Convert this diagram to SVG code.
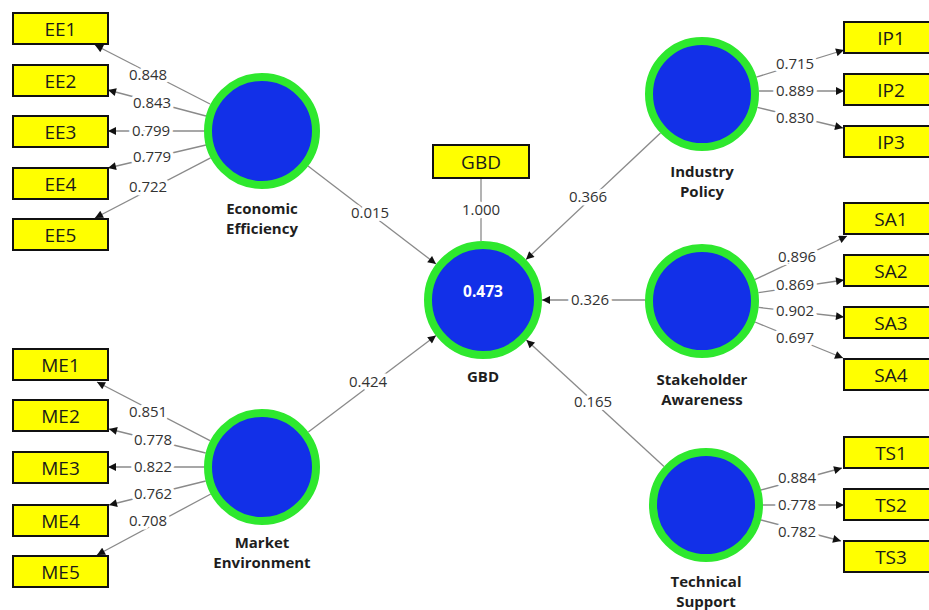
<svg xmlns="http://www.w3.org/2000/svg" width="929" height="610" viewBox="0 0 929 610">
<style>
.ind rect{fill:#ffff00;stroke:#111;stroke-width:2}
.ind text{font-family:"Open Sans","Liberation Sans",sans-serif;font-size:19px;fill:#1a1a1a;text-anchor:middle}
.lv circle{fill:#1230e8;stroke:#2ee82e;stroke-width:8}
.lv text{font-family:"Open Sans","Liberation Sans",sans-serif;font-size:15px;font-weight:bold;fill:#1e1e1e;text-anchor:middle}
.lv text.val{fill:#ffffff;font-size:15.5px}
.conn line{stroke:#8a8a8a;stroke-width:1.3}
.conn line.a{marker-end:url(#ah)}
.conn text{font-family:"Open Sans","Liberation Sans",sans-serif;font-size:15px;fill:#333;text-anchor:middle;stroke:#fff;stroke-width:7;stroke-linejoin:round;paint-order:stroke}
</style>
<defs>
<marker id="ah" viewBox="0 0 10 10" refX="10" refY="5" markerWidth="9" markerHeight="8" markerUnits="userSpaceOnUse" orient="auto">
<path d="M0,0 L10,5 L0,10 z" fill="#111"/>
</marker>
</defs>
<rect width="929" height="610" fill="#fff"/>

<g id="connectors" class="conn">
<!-- EE loadings -->
<line class="a" x1="210" y1="104" x2="95" y2="45"/>
<line class="a" x1="206" y1="116" x2="108" y2="90"/>
<line class="a" x1="204" y1="131" x2="108" y2="131"/>
<line class="a" x1="206" y1="145" x2="108" y2="168"/>
<line class="a" x1="210.6" y1="157.8" x2="95" y2="218"/>
<text x="148" y="80">0.848</text>
<text x="152" y="108">0.843</text>
<text x="151" y="136">0.799</text>
<text x="152" y="162">0.779</text>
<text x="148" y="192">0.722</text>
<!-- ME loadings -->
<line class="a" x1="210" y1="440.7" x2="97" y2="382"/>
<line class="a" x1="205.7" y1="453" x2="109" y2="429"/>
<line class="a" x1="204" y1="467" x2="108" y2="467"/>
<line class="a" x1="205.7" y1="481" x2="109" y2="505"/>
<line class="a" x1="210.8" y1="494" x2="97" y2="555"/>
<text x="148" y="417">0.851</text>
<text x="153" y="445">0.778</text>
<text x="153" y="472">0.822</text>
<text x="153" y="499">0.762</text>
<text x="148" y="526">0.708</text>
<!-- IP loadings -->
<line class="a" x1="756.4" y1="77.1" x2="844" y2="50"/>
<line class="a" x1="759" y1="91" x2="844" y2="91"/>
<line class="a" x1="757.4" y1="107.4" x2="843" y2="128"/>
<text x="795" y="69">0.715</text>
<text x="795" y="96">0.889</text>
<text x="795" y="123">0.830</text>
<!-- SA loadings -->
<line class="a" x1="754.8" y1="279.6" x2="847" y2="236"/>
<line class="a" x1="758.4" y1="292.7" x2="844" y2="280"/>
<line class="a" x1="758.6" y1="307.4" x2="844" y2="317"/>
<line class="a" x1="755" y1="322" x2="843" y2="358"/>
<text x="797" y="262">0.896</text>
<text x="795" y="290">0.869</text>
<text x="795" y="316">0.902</text>
<text x="795" y="343">0.697</text>
<!-- TS loadings -->
<line class="a" x1="761" y1="490" x2="842" y2="468"/>
<line class="a" x1="763" y1="505" x2="844" y2="505"/>
<line class="a" x1="761" y1="520" x2="841" y2="541"/>
<text x="797" y="483">0.884</text>
<text x="797" y="510">0.778</text>
<text x="797" y="537">0.782</text>
<!-- GBD indicator -->
<line x1="481" y1="178" x2="481" y2="241"/>
<text x="481" y="215">1.000</text>
<!-- structural paths -->
<line class="a" x1="308" y1="166" x2="436" y2="264"/>
<line class="a" x1="308.3" y1="432" x2="436" y2="335.6"/>
<line class="a" x1="660.5" y1="133" x2="526" y2="259.6"/>
<line class="a" x1="645" y1="300" x2="542" y2="300"/>
<line class="a" x1="664" y1="466.4" x2="526.4" y2="340"/>
<text x="370" y="218">0.015</text>
<text x="368" y="387">0.424</text>
<text x="588" y="202">0.366</text>
<text x="590" y="305">0.326</text>
<text x="593" y="407">0.165</text>
</g>

<g id="EE1" class="ind"><rect x="13" y="13" width="95" height="31"/><text x="60.5" y="35.5">EE1</text></g>
<g id="EE2" class="ind"><rect x="13" y="65" width="95" height="31"/><text x="60.5" y="87.5">EE2</text></g>
<g id="EE3" class="ind"><rect x="13" y="116" width="95" height="31"/><text x="60.5" y="138.5">EE3</text></g>
<g id="EE4" class="ind"><rect x="13" y="168" width="95" height="31"/><text x="60.5" y="190.5">EE4</text></g>
<g id="EE5" class="ind"><rect x="13" y="219" width="95" height="31"/><text x="60.5" y="241.5">EE5</text></g>

<g id="ME1" class="ind"><rect x="13" y="349" width="95" height="31"/><text x="60.5" y="371.5">ME1</text></g>
<g id="ME2" class="ind"><rect x="13" y="400" width="95" height="31"/><text x="60.5" y="422.5">ME2</text></g>
<g id="ME3" class="ind"><rect x="13" y="452" width="95" height="31"/><text x="60.5" y="474.5">ME3</text></g>
<g id="ME4" class="ind"><rect x="13" y="505" width="95" height="31"/><text x="60.5" y="527.5">ME4</text></g>
<g id="ME5" class="ind"><rect x="13" y="556" width="95" height="31"/><text x="60.5" y="578.5">ME5</text></g>

<g id="IP1" class="ind"><rect x="844" y="22" width="95" height="31"/><text x="891" y="44.5">IP1</text></g>
<g id="IP2" class="ind"><rect x="844" y="74" width="95" height="31"/><text x="891" y="96.5">IP2</text></g>
<g id="IP3" class="ind"><rect x="844" y="126" width="95" height="31"/><text x="891" y="148.5">IP3</text></g>

<g id="SA1" class="ind"><rect x="844" y="203" width="95" height="31"/><text x="891" y="225.5">SA1</text></g>
<g id="SA2" class="ind"><rect x="844" y="255" width="95" height="31"/><text x="891" y="277.5">SA2</text></g>
<g id="SA3" class="ind"><rect x="844" y="307" width="95" height="31"/><text x="891" y="329.5">SA3</text></g>
<g id="SA4" class="ind"><rect x="844" y="359" width="95" height="31"/><text x="891" y="381.5">SA4</text></g>

<g id="TS1" class="ind"><rect x="844" y="437" width="95" height="31"/><text x="891" y="459.5">TS1</text></g>
<g id="TS2" class="ind"><rect x="844" y="489" width="95" height="31"/><text x="891" y="511.5">TS2</text></g>
<g id="TS3" class="ind"><rect x="844" y="541" width="95" height="31"/><text x="891" y="563.5">TS3</text></g>

<g id="GBD-ind" class="ind"><rect x="433" y="145" width="96" height="33"/><text x="481" y="168.5">GBD</text></g>

<g id="EconomicEfficiency" class="lv"><circle cx="262" cy="131" r="54"/><text x="262" y="214">Economic</text><text x="262" y="234">Efficiency</text></g>
<g id="MarketEnvironment" class="lv"><circle cx="262" cy="467" r="54"/><text x="262" y="548">Market</text><text x="262" y="568">Environment</text></g>
<g id="IndustryPolicy" class="lv"><circle cx="702" cy="94" r="53"/><text x="702" y="177">Industry</text><text x="702" y="197">Policy</text></g>
<g id="StakeholderAwareness" class="lv"><circle cx="702" cy="301" r="53"/><text x="702" y="385">Stakeholder</text><text x="702" y="405">Awareness</text></g>
<g id="TechnicalSupport" class="lv"><circle cx="706" cy="505" r="53"/><text x="706" y="587">Technical</text><text x="706" y="607">Support</text></g>
<g id="GBD" class="lv"><circle cx="483" cy="300" r="55"/><text class="val" x="483" y="297">0.473</text><text x="483" y="382">GBD</text></g>
</svg>
